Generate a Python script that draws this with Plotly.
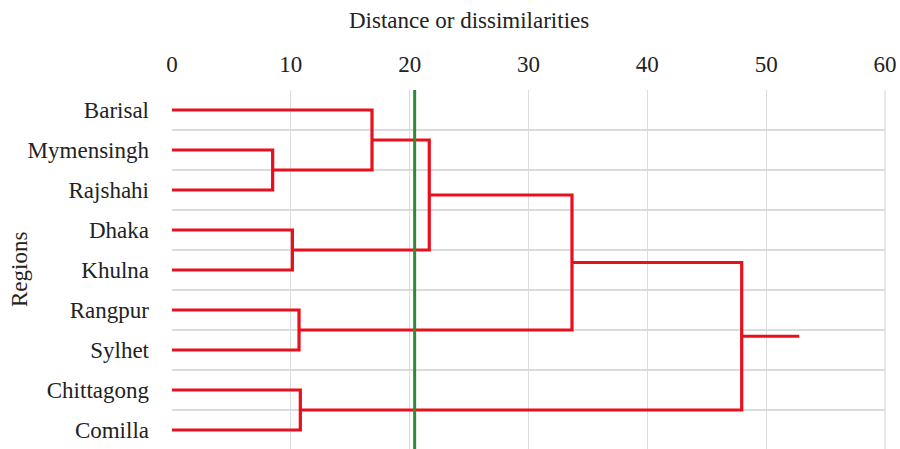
import plotly.graph_objects as go

# ---- data ----
regions = ["Barisal", "Mymensingh", "Rajshahi", "Dhaka", "Khulna",
           "Rangpur", "Sylhet", "Chittagong", "Comilla"]
# merges: (left cluster, right cluster, distance); clusters are leaf names or merge indices "m#"
merges = [
    ("Mymensingh", "Rajshahi", 8.47),   # m0
    ("Barisal", "m0", 16.83),           # m1
    ("Dhaka", "Khulna", 10.13),         # m2
    ("m1", "m2", 21.65),                # m3
    ("Rangpur", "Sylhet", 10.69),       # m4
    ("m3", "m4", 33.66),                # m5
    ("Chittagong", "Comilla", 10.80),   # m6
    ("m5", "m6", 47.94),                # m7
]
root_tail = 52.79
cut_distance = 20.42
x_ticks = [0, 10, 20, 30, 40, 50, 60]

# ---- build dendrogram segments ----
pos = {name: i for i, name in enumerate(regions)}
hgt = {name: 0.0 for name in regions}
xs, ys = [], []
for k, (a, b, d) in enumerate(merges):
    ya, yb = pos[a], pos[b]
    xa, xb = hgt[a], hgt[b]
    xs += [xa, d, d, xb, None]
    ys += [ya, ya, yb, yb, None]
    key = f"m{k}"
    pos[key] = (ya + yb) / 2
    hgt[key] = d
last = f"m{len(merges)-1}"
xs += [hgt[last], root_tail, None]
ys += [pos[last], pos[last], None]

fig = go.Figure()
fig.add_trace(go.Scatter(x=xs, y=ys, mode="lines",
                         line=dict(color="#e8101c", width=3.2),
                         hoverinfo="skip", showlegend=False))
fig.add_trace(go.Scatter(x=[cut_distance, cut_distance], y=[-0.5, 8.5], mode="lines",
                         line=dict(color="#2e8b35", width=3),
                         hoverinfo="skip", showlegend=False))

W, H = 900, 449
L, R, T, B = 172, 15, 90, 0
pw, ph = W - L - R, H - T - B
font_family = "Palatino Linotype, Book Antiqua, Palatino, Liberation Serif, serif"
grid = "#dcdcdc"
fig.update_layout(
    width=W, height=H,
    margin=dict(l=L, r=R, t=T, b=B),
    plot_bgcolor="white", paper_bgcolor="white",
    font=dict(family=font_family, size=23, color="#222222"),
    xaxis=dict(side="top", range=[0, 60], tickvals=x_ticks,
               showgrid=True, gridcolor=grid, gridwidth=1.3,
               zeroline=False, showline=False, ticks="",
               ticklabelstandoff=12, ticklabeloverflow="allow",
               tickfont=dict(size=23)),
    yaxis=dict(range=[-0.5 + ph / 40, -0.5],
               tickmode="array", tickvals=list(range(len(regions))), ticktext=regions,
               showgrid=False, zeroline=False, showline=False, ticks="",
               ticklabelstandoff=22, tickfont=dict(size=23),
               minor=dict(tickmode="array",
                          tickvals=[i - 0.5 for i in range(len(regions) + 1)],
                          showgrid=True, gridcolor=grid, gridwidth=1.3, ticks="")),
    shapes=[dict(type="line", xref="paper", yref="paper", x0=1, x1=1, y0=0, y1=1,
                 line=dict(color=grid, width=1.3), layer="below")],
)
for text, px, py, ang in [("Distance or dissimilarities", 469, 20, 0),
                          ("Regions", 19, 270, -90)]:
    fig.add_annotation(text=text, x=(px - L) / pw, y=(H - py - B) / ph,
                       xref="paper", yref="paper", showarrow=False,
                       textangle=ang, xanchor="center", yanchor="middle",
                       font=dict(size=23))

fig.write_html("out.html",
               config={"displayModeBar": False, "staticPlot": True},
               post_script="document.body.style.margin='0';"
                           "document.body.style.overflow='hidden';")
